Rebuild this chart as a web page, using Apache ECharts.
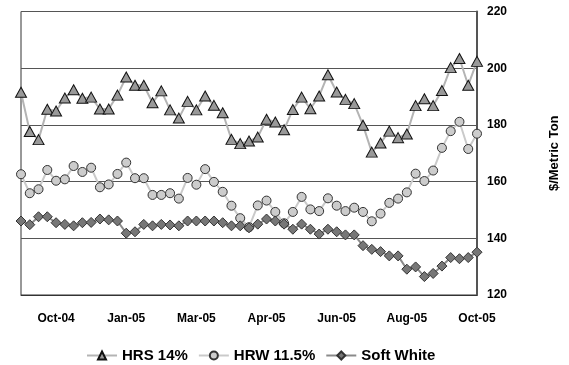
<!DOCTYPE html>
<html>
<head>
<meta charset="utf-8">
<script src="https://cdn.jsdelivr.net/npm/echarts@6/dist/echarts.min.js"></script>
<style>
  html, body { margin: 0; padding: 0; background: #fff; }
  #chart { width: 569px; height: 365px; }
</style>
</head>
<body>
<div id="chart"></div>
<script>
// Weekly wheat prices, $/metric ton
const tickLabels = ['Oct-04', 'Jan-05', 'Mar-05', 'Apr-05', 'Jun-05', 'Aug-05', 'Oct-05'];

const hrs14 = [
  191.5, 177.7, 174.8, 185.5, 184.9, 189.5, 192.4, 189.4, 189.8, 185.6,
  185.6, 190.5, 196.9, 194.0, 194.0, 187.8, 192.0, 185.3, 182.4, 188.3,
  185.3, 190.2, 186.9, 184.3, 174.9, 173.4, 174.3, 175.7, 182.0, 181.0,
  178.3, 185.4, 189.8, 185.7, 190.2, 197.7, 191.6, 189.0, 187.5, 179.9,
  170.4, 173.6, 177.8, 175.5, 176.8, 186.8, 189.2, 186.8, 192.1, 200.2,
  203.4, 194.0, 202.4
];

const hrw115 = [
  162.6, 155.9, 157.3, 164.1, 160.3, 160.8, 165.5, 163.4, 164.9, 158.0,
  159.0, 162.7, 166.7, 161.2, 161.2, 155.3, 155.3, 155.9, 154.0, 161.3,
  158.9, 164.4, 159.9, 156.4, 151.5, 147.1, 143.9, 151.6, 153.3, 149.3,
  145.3, 149.3, 154.6, 150.2, 149.6, 154.1, 151.5, 149.6, 150.8, 149.3,
  146.0, 148.7, 152.5, 154.0, 156.2, 162.8, 160.2, 163.9, 171.9, 177.8,
  181.1, 171.5, 176.9
];

const softWhite = [
  146.1, 144.8, 147.6, 147.6, 145.5, 144.9, 144.4, 145.5, 145.6, 146.8,
  146.5, 146.1, 141.8, 142.3, 144.9, 144.4, 144.9, 144.7, 144.4, 146.1,
  146.1, 146.1, 146.1, 145.5, 144.4, 144.4, 143.7, 145.0, 146.8, 146.1,
  145.0, 143.2, 145.0, 143.2, 141.5, 143.2, 142.3, 141.2, 141.2, 137.4,
  136.1, 135.3, 133.8, 133.8, 129.1, 129.9, 126.5, 127.6, 130.2, 133.2,
  132.8, 133.2, 135.1
];

const weeks = hrs14.map((_, i) => 'W' + (i + 1));

const FONT = 'Arial, "Liberation Sans", sans-serif';
const chart = echarts.init(document.getElementById('chart'), null, { renderer: 'canvas' });

function lineSeries(name, data, symbol, size, fill, stroke, lineColor) {
  return {
    name: name,
    type: 'line',
    data: data,
    symbol: symbol,
    symbolSize: size,
    showAllSymbol: true,
    animation: false,
    lineStyle: { color: lineColor, width: 2 },
    itemStyle: { color: fill, borderColor: stroke, borderWidth: 1 },
    emphasis: { disabled: true }
  };
}

chart.setOption({
  backgroundColor: '#fff',
  animation: false,
  grid: {
    left: 21, right: 88, top: 11.5, bottom: 70,
    show: true, borderColor: '#333', borderWidth: 1
  },
  legend: {
    left: 81, top: 343,
    itemWidth: 30, itemHeight: 10, itemGap: 10,
    textStyle: { fontFamily: FONT, fontWeight: 'bold', fontSize: 15, color: '#000' },
    data: ['HRS 14%', 'HRW 11.5%', 'Soft White']
  },
  xAxis: {
    type: 'category',
    data: weeks,
    boundaryGap: false,
    axisLine: { show: true, lineStyle: { color: '#333', width: 1 } },
    axisTick: { show: false },
    splitLine: { show: false },
    axisLabel: {
      interval: (i) => i % 8 === 4,
      formatter: (v, i) => tickLabels[(i - 4) / 8] || '',
      margin: 18,
      fontFamily: FONT, fontWeight: 'bold', fontSize: 12, color: '#000'
    }
  },
  yAxis: {
    type: 'value',
    position: 'right',
    min: 120, max: 220, interval: 20,
    name: '$/Metric Ton',
    nameLocation: 'middle',
    nameRotate: 90,
    nameGap: 71,
    nameTextStyle: { fontFamily: FONT, fontWeight: 'bold', fontSize: 13, color: '#000' },
    axisLine: { show: true, lineStyle: { color: '#555', width: 2 } },
    axisTick: { show: false },
    splitLine: { show: true, lineStyle: { color: '#555', width: 1 } },
    axisLabel: {
      margin: 10,
      fontFamily: FONT, fontWeight: 'bold', fontSize: 12, color: '#000'
    }
  },
  series: [
    lineSeries('HRS 14%', hrs14, 'triangle', [11, 10], '#999999', '#111', '#b4b4b4'),
    lineSeries('HRW 11.5%', hrw115, 'circle', 9, '#cccccc', '#333', '#cacaca'),
    lineSeries('Soft White', softWhite, 'diamond', [10, 10], '#777777', '#333', '#8a8a8a')
  ]
});
</script>
</body>
</html>
